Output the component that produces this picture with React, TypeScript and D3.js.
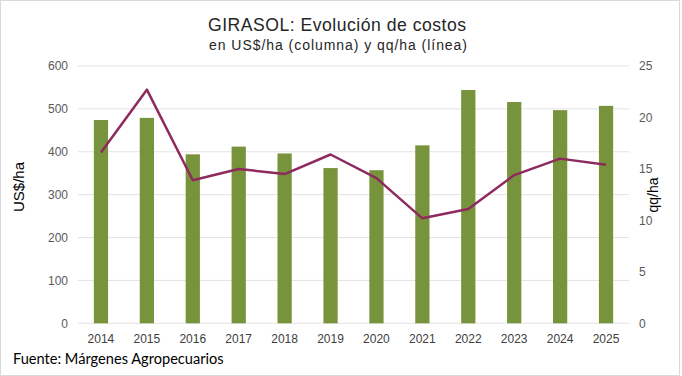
import React from "react";
import * as d3 from "d3";

const years = ["2014","2015","2016","2017","2018","2019","2020","2021","2022","2023","2024","2025"];
const costs = [474, 479, 394, 412, 396, 362, 357, 415, 544, 516, 497, 507];
const qqha = [16.6, 22.7, 13.9, 15.0, 14.5, 16.4, 14.1, 10.2, 11.1, 14.4, 16.0, 15.4];
const leftTicks = [0, 100, 200, 300, 400, 500, 600];
const rightTicks = [0, 5, 10, 15, 20, 25];

const W = 682, H = 376;
const plotL = 78, plotR = 629, plotT = 66, plotB = 323.3;
const font = "'Liberation Sans', Arial, sans-serif";

export default function App() {
  const x = d3.scaleBand().domain(years).range([plotL, plotR]).paddingInner(0.69).paddingOuter(0.345);
  const yL = d3.scaleLinear().domain([0, 600]).range([plotB, plotT]);
  const yR = d3.scaleLinear().domain([0, 25]).range([plotB, plotT]);
  const cx = (y: string) => (x(y) as number) + x.bandwidth() / 2;
  const line = d3.line<number>().x((_, i) => cx(years[i])).y((d) => yR(d));

  return (
    <svg width={W} height={H} style={{ position: "fixed", left: 0, top: 0, background: "#fff" }}>
      <rect x={0.5} y={0.5} width={679} height={375} fill="#fff" stroke="#d9d9d9" />
      <text x={337.3} y={31.3} textAnchor="middle" fontFamily={font} fontSize={17.6} letterSpacing={0.5} fill="#262626">GIRASOL: Evolución de costos</text>
      <text x={338.5} y={49.7} textAnchor="middle" fontFamily={font} fontSize={14} letterSpacing={0.95} fill="#262626">en US$/ha (columna) y qq/ha (línea)</text>
      {leftTicks.map((t) => (
        <g key={t}>
          <line x1={plotL} x2={plotR} y1={yL(t)} y2={yL(t)} stroke="#e3e3e3" strokeWidth={1} />
          <text x={68} y={yL(t) + 4.3} textAnchor="end" fontFamily={font} fontSize={12} fill="#595959">{t}</text>
        </g>
      ))}
      {rightTicks.map((t) => (
        <text key={t} x={639} y={yR(t) + 4.3} textAnchor="start" fontFamily={font} fontSize={12} fill="#595959">{t}</text>
      ))}
      {years.map((yr, i) => (
        <g key={yr}>
          <rect x={x(yr)} y={yL(costs[i])} width={x.bandwidth()} height={plotB - yL(costs[i])} fill="#77933C" />
          <text x={cx(yr)} y={343} textAnchor="middle" fontFamily={font} fontSize={12} fill="#404040">{yr}</text>
        </g>
      ))}
      <path d={line(qqha) || ""} fill="none" stroke="#8E2A5D" strokeWidth={2.5} strokeLinejoin="round" />
      <text transform="translate(24,187) rotate(-90)" textAnchor="middle" fontFamily={font} fontSize={15} fill="#000">US$/ha</text>
      <text transform="translate(658,195) rotate(-90)" textAnchor="middle" fontFamily={font} fontSize={14} fill="#000">qq/ha</text>
      <text x={13} y={364} fontFamily="Lato, 'Open Sans', sans-serif" fontSize={14.6} fill="#000">Fuente: Márgenes Agropecuarios</text>
    </svg>
  );
}
